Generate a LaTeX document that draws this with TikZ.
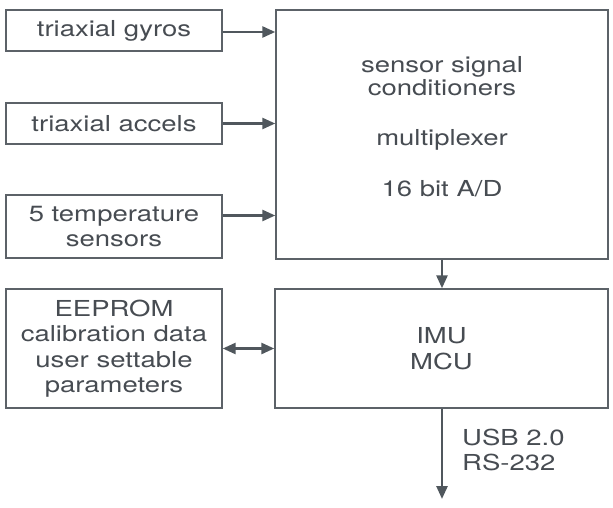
\documentclass[tikz,border=0pt]{standalone}
\usepackage{fontspec}
\setmainfont{TeX Gyre Heros}[FakeStretch=1.25]
\usetikzlibrary{arrows.meta}
\definecolor{boxc}{HTML}{5C6268}
\definecolor{txtc}{HTML}{474C52}
\definecolor{arrc}{HTML}{50575D}
\tikzset{
  x=1pt, y=-1pt,
  blk/.style={draw=boxc, line width=1.4pt, fill=white, text=txtc, align=center, inner sep=0pt,
    font=\fontsize{22}{25.5}\selectfont},
  lbl/.style={text=txtc, inner sep=0pt, font=\fontsize{22}{25.5}\selectfont},
  conn/.style={draw=arrc, line width=2.6pt, -{Triangle[length=13pt,width=11pt]}},
  biconn/.style={draw=arrc, line width=2.6pt, {Triangle[length=13pt,width=11pt]}-{Triangle[length=13pt,width=11pt]}},
}
\begin{document}
\begin{tikzpicture}
\useasboundingbox (0,0) rectangle (613,508);
\node[blk, minimum width=216pt, minimum height=41pt] (gyro) at (114,30.5) {triaxial gyros};
\node[blk, minimum width=216pt, minimum height=41pt] (acc) at (114,123.5) {triaxial accels};
\node[blk, minimum width=216pt, minimum height=63pt] (temp) at (114,226.5) {5 temperature\\sensors};
\node[blk, minimum width=332pt, minimum height=249pt] (big) at (442,134.5) {};
\node[lbl, anchor=base] (l1) at (442,73) {sensor signal};
\node[lbl, anchor=base] (l2) at (442,96) {conditioners};
\node[lbl, anchor=base] (l3) at (442,146) {multiplexer};
\node[lbl, anchor=base] (l4) at (442,196) {16 bit A/D};
\node[blk, minimum width=216pt, minimum height=119pt] (eep) at (114,348.5) {EEPROM\\calibration data\\user settable\\parameters};
\node[blk, minimum width=333pt, minimum height=119pt] (mcu) at (441.5,348.5) {IMU\\MCU};
\coordinate (out) at (442,499);
\node[lbl, anchor=west, align=left] (usb) at (462,450) {USB 2.0\\RS-232};
\draw[conn] (gyro.east) ++(0,1.5) coordinate (g0) -- (g0 -| big.west);
\draw[conn] (acc.east) -- (acc.east -| big.west);
\draw[conn] (temp.east) ++(0,-11) coordinate (t0) -- (t0 -| big.west);
\draw[conn] (big.south -| out) -- (mcu.north -| out);
\draw[biconn] (eep.east) -- (mcu.west);
\draw[conn] (mcu.south -| out) -- (out);
\end{tikzpicture}
\end{document}
